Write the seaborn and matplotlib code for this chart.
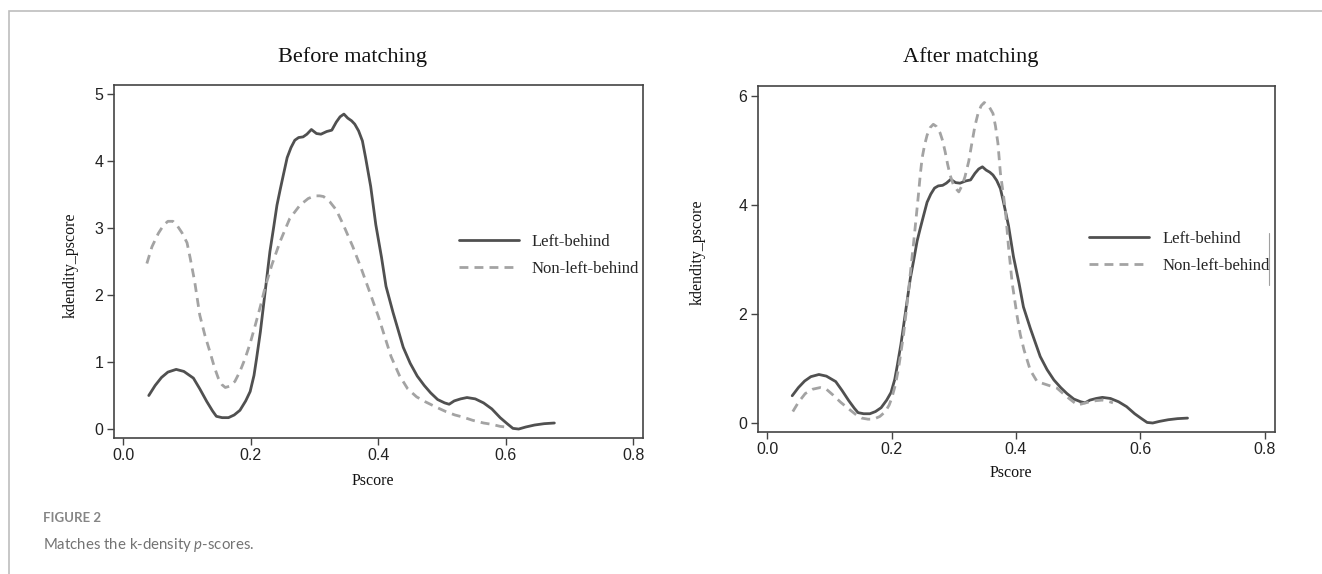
# Recreation of "Matches the k-density p-scores" (before / after matching)

import pandas as pd
import matplotlib
matplotlib.use("Agg")
import matplotlib.pyplot as plt
from matplotlib.patches import Rectangle
from matplotlib.lines import Line2D
import seaborn as sns

# --- data ---
# Left-behind (treated) group, same curve in both panels
lb_x = [0.040, 0.050, 0.060, 0.070, 0.083, 0.095, 0.110, 0.120, 0.131, 0.140,
        0.146, 0.155, 0.165, 0.174, 0.183, 0.192, 0.199, 0.205, 0.209, 0.215,
        0.220, 0.225, 0.230, 0.236, 0.241, 0.246, 0.251, 0.257, 0.263, 0.269,
        0.275, 0.282, 0.288, 0.295, 0.303, 0.310, 0.319, 0.327, 0.334, 0.340,
        0.346, 0.352, 0.358, 0.363, 0.369, 0.375, 0.380, 0.388, 0.396, 0.405,
        0.412, 0.423, 0.431, 0.439, 0.450, 0.461, 0.472, 0.482, 0.493, 0.504,
        0.511, 0.519, 0.529, 0.539, 0.552, 0.565, 0.578, 0.591, 0.602, 0.611,
        0.620, 0.631, 0.645, 0.660, 0.676]
lb_y = [0.50, 0.65, 0.77, 0.85, 0.89, 0.86, 0.76, 0.60, 0.41, 0.27,
        0.19, 0.17, 0.17, 0.21, 0.28, 0.42, 0.56, 0.80, 1.05, 1.45,
        1.85, 2.25, 2.65, 3.02, 3.34, 3.57, 3.79, 4.05, 4.20, 4.31,
        4.35, 4.36, 4.40, 4.47, 4.41, 4.40, 4.44, 4.46, 4.58, 4.66,
        4.70, 4.64, 4.60, 4.55, 4.45, 4.30, 4.05, 3.62, 3.05, 2.56,
        2.13, 1.74, 1.48, 1.22, 0.98, 0.79, 0.65, 0.54, 0.44, 0.39,
        0.37, 0.42, 0.45, 0.47, 0.45, 0.39, 0.30, 0.17, 0.08, 0.01,
        0.00, 0.03, 0.06, 0.08, 0.09]

# Non-left-behind group before matching
nlb_before_x = [0.037, 0.045, 0.055, 0.063, 0.070, 0.078, 0.085, 0.092, 0.100, 0.105,
                0.112, 0.120, 0.128, 0.136, 0.143, 0.149, 0.155, 0.160, 0.167, 0.175,
                0.183, 0.191, 0.199, 0.207, 0.215, 0.222, 0.233, 0.246, 0.261, 0.277,
                0.290, 0.300, 0.308, 0.314, 0.324, 0.334, 0.345, 0.360, 0.373, 0.387,
                0.400, 0.410, 0.420, 0.433, 0.446, 0.460, 0.473, 0.490, 0.506, 0.520,
                0.532, 0.548, 0.565, 0.578, 0.591, 0.600]
nlb_before_y = [2.47, 2.72, 2.92, 3.04, 3.10, 3.10, 3.03, 2.93, 2.78, 2.55,
                2.20, 1.70, 1.40, 1.15, 0.92, 0.76, 0.66, 0.62, 0.64, 0.71,
                0.86, 1.05, 1.28, 1.55, 1.83, 2.10, 2.45, 2.80, 3.14, 3.34,
                3.44, 3.48, 3.48, 3.47, 3.39, 3.27, 3.05, 2.72, 2.40, 2.03,
                1.68, 1.38, 1.08, 0.80, 0.60, 0.48, 0.41, 0.33, 0.26, 0.21,
                0.18, 0.13, 0.09, 0.07, 0.04, 0.03]

# Non-left-behind group after matching
nlb_after_x = [0.041, 0.050, 0.061, 0.073, 0.085, 0.095, 0.106, 0.118, 0.133, 0.143,
               0.152, 0.162, 0.171, 0.181, 0.190, 0.196, 0.200, 0.206, 0.211, 0.215,
               0.219, 0.223, 0.227, 0.231, 0.235, 0.239, 0.243, 0.246, 0.249, 0.253,
               0.257, 0.262, 0.267, 0.272, 0.278, 0.282, 0.286, 0.290, 0.294, 0.299,
               0.305, 0.308, 0.313, 0.318, 0.324, 0.329, 0.334, 0.339, 0.344, 0.349,
               0.356, 0.363, 0.367, 0.371, 0.375, 0.379, 0.383, 0.388, 0.394, 0.402,
               0.407, 0.413, 0.423, 0.434, 0.450, 0.466, 0.482, 0.499, 0.509, 0.519,
               0.529, 0.539, 0.548, 0.556]
nlb_after_y = [0.21, 0.38, 0.54, 0.62, 0.65, 0.62, 0.51, 0.38, 0.24, 0.15,
               0.09, 0.07, 0.07, 0.12, 0.21, 0.33, 0.45, 0.70, 1.00, 1.30,
               1.61, 2.00, 2.41, 2.85, 3.27, 3.72, 4.18, 4.55, 4.86, 5.10,
               5.28, 5.42, 5.48, 5.44, 5.32, 5.18, 4.98, 4.75, 4.55, 4.38,
               4.28, 4.24, 4.35, 4.52, 4.80, 5.13, 5.45, 5.68, 5.82, 5.88,
               5.82, 5.68, 5.45, 5.13, 4.58, 4.25, 3.91, 3.23, 2.56, 1.95,
               1.62, 1.34, 0.97, 0.76, 0.70, 0.64, 0.48, 0.33, 0.36, 0.39,
               0.41, 0.42, 0.40, 0.37]

groups = ["Left-behind", "Non-left-behind"]
x_ticks = [0.0, 0.2, 0.4, 0.6, 0.8]
y_ticks_before = [0, 1, 2, 3, 4, 5]
y_ticks_after = [0, 2, 4, 6]

SOLID = "#505050"
DASHED = "#a3a3a3"
SPINE = "#444444"
SERIF = "Liberation Serif"
SANS = "Liberation Sans"


def make_frame(x_a, y_a, x_b, y_b):
    a = pd.DataFrame({"Pscore": x_a, "density": y_a, "group": groups[0]})
    b = pd.DataFrame({"Pscore": x_b, "density": y_b, "group": groups[1]})
    return pd.concat([a, b], ignore_index=True)


def draw_panel(ax, df, yticks, xlim, ylim, leg_anchor, xlab_y, ylab_xy):
    sns.lineplot(data=df, x="Pscore", y="density", hue="group", style="group",
                 palette={groups[0]: SOLID, groups[1]: DASHED},
                 dashes={groups[0]: "", groups[1]: (3.2, 2.2)},
                 estimator=None, sort=False, linewidth=2.0, ax=ax)
    ax.set_xlim(*xlim)
    ax.set_ylim(*ylim)
    ax.set_xticks(x_ticks)
    ax.set_xticklabels([f"{t:.1f}" for t in x_ticks])
    ax.set_yticks(yticks)
    ax.set_yticklabels([str(t) for t in yticks])
    ax.tick_params(axis="both", which="major", bottom=True, left=True,
                   top=False, right=False, direction="out", length=5,
                   width=1.0, color=SPINE, labelsize=11.5,
                   labelcolor="#222222", pad=2.5)
    for lab in ax.get_xticklabels() + ax.get_yticklabels():
        lab.set_family(SANS)
    for sp in ax.spines.values():
        sp.set_visible(True)
        sp.set_color(SPINE)
        sp.set_linewidth(1.2)
    ax.grid(False)

    ax.set_xlabel("Pscore", family=SERIF, fontsize=11.5, color="#111111")
    ax.xaxis.set_label_coords(0.49, xlab_y)
    ax.set_ylabel("kdendity_pscore", family=SERIF, fontsize=11.5, color="#111111")
    ax.yaxis.set_label_coords(*ylab_xy)

    handles, labels = ax.get_legend_handles_labels()
    ax.legend(handles, labels, frameon=False, loc="center left",
              bbox_to_anchor=leg_anchor, borderpad=0, borderaxespad=0,
              handlelength=3.6, handletextpad=0.8, labelspacing=0.65,
              prop={"family": SERIF, "size": 12})


sns.set_theme(style="white")
plt.rcParams["font.family"] = [SERIF, "DejaVu Sans"]

fig = plt.figure(figsize=(13.22, 5.74), dpi=100)
fig.patch.set_facecolor("white")

ax1 = fig.add_axes([0.0859, 0.2369, 0.4003, 0.6150])
ax2 = fig.add_axes([0.5731, 0.2474, 0.3910, 0.6028])

draw_panel(ax1, make_frame(lb_x, lb_y, nlb_before_x, nlb_before_y),
           y_ticks_before, (-0.0152, 0.8146), (-0.134, 5.134),
           (0.652, 0.517), -0.098, (-0.066, 0.49))
draw_panel(ax2, make_frame(lb_x, lb_y, nlb_after_x, nlb_after_y),
           y_ticks_after, (-0.0156, 0.8160), (-0.165, 6.183),
           (0.641, 0.519), -0.094, (-0.10, 0.519))

# faint leftover edge of the legend box in the right panel
ax2.add_line(Line2D([0.989, 0.989], [0.425, 0.575], transform=ax2.transAxes,
                    color="#a0a0a0", linewidth=0.8))

fig.text(0.2668, 0.9007, "Before matching", family=SERIF, fontsize=16,
         ha="center", va="center", color="#111111")
fig.text(0.7342, 0.9007, "After matching", family=SERIF, fontsize=16,
         ha="center", va="center", color="#111111")

# page frame and caption
fig.add_artist(Rectangle((9 / 1322, -0.05), 1.1, 1 - 11 / 574 + 0.05,
                         transform=fig.transFigure, fill=False,
                         edgecolor="#bdbdbd", linewidth=1.2))
fig.text(0.0325, 0.0976, "FIGURE 2", family="Lato", fontweight="bold",
         fontsize=9.5, color="#858585", ha="left", va="center")
plt.rcParams["mathtext.fontset"] = "custom"
plt.rcParams["mathtext.it"] = "Lato:italic"
plt.rcParams["mathtext.rm"] = "Lato"
fig.text(0.0325, 0.0505, r"Matches the k-density $\mathit{p}$-scores.", family="Lato",
         fontsize=10.8, color="#737373", ha="left", va="center")

fig.savefig("out.png", dpi=100, facecolor="white")
plt.close(fig)
